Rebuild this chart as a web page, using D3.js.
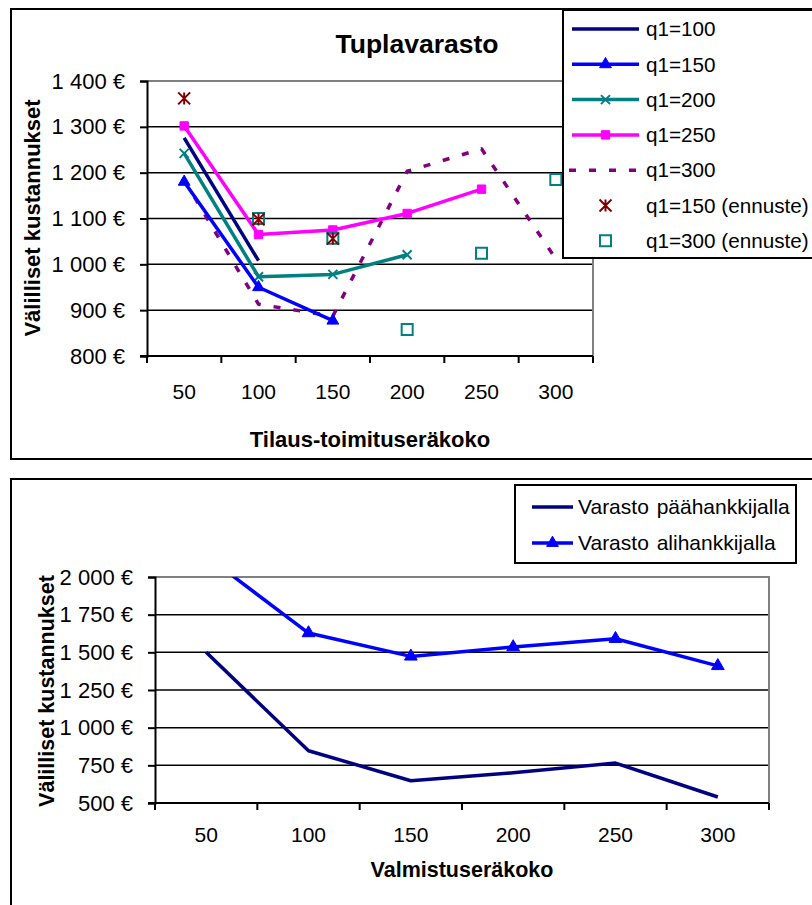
<!DOCTYPE html>
<html>
<head>
<meta charset="utf-8">
<script src="https://cdn.jsdelivr.net/npm/d3@7"></script>
<style>
  html, body { margin: 0; padding: 0; background: #fff; }
  svg { display: block; font-family: "Liberation Sans", Arial, sans-serif; }
</style>
</head>
<body>
<svg id="chart" width="812" height="905"></svg>
<script>
// ---------------- DATA ----------------
const topCategories = ["50", "100", "150", "200", "250", "300"];
const topYTicks = [800, 900, 1000, 1100, 1200, 1300, 1400];
const topTitle = "Tuplavarasto";
const topXLabel = "Tilaus-toimituseräkoko";
const yLabel = "Välilliset kustannukset";

const q100 = [1276, 1008, null, null, null, null];
const q150 = [1180, 950, 877, null, null, null];
const q200 = [1242, 973, 978, 1021, null, null];
const q250 = [1302, 1065, 1075, 1111, 1164, null];
const q300 = [1184, 913, 887, 1203, 1252, 1012];
const q150Forecast = [1362, 1098, 1056, null, null, null];
const q300Forecast = [null, 1100, 1057, 858, 1024, 1185];

const topSeriesNames = ["q1=100", "q1=150", "q1=200", "q1=250", "q1=300", "q1=150 (ennuste)", "q1=300 (ennuste)"];

const bottomCategories = ["50", "100", "150", "200", "250", "300"];
const bottomYTicks = [500, 750, 1000, 1250, 1500, 1750, 2000];
const bottomXLabel = "Valmistuseräkoko";
const mainSupplierStock = [1500, 847, 648, 700, 765, 540];
const subSupplierStock = [2140, 1628, 1473, 1535, 1590, 1410];
const bottomSeriesNames = ["Varasto päähankkijalla", "Varasto alihankkijalla"];

// ---------------- HELPERS ----------------
const svg = d3.select("#chart");
const FONT = 21;
const fmtEuro = v => {
  const s = v >= 1000 ? Math.floor(v / 1000) + " " + String(v % 1000).padStart(3, "0") : String(v);
  return s + " €";
};

function markerPath(type, s) {
  if (type === "triangle") return d3.symbol(d3.symbolTriangle, s)();
  if (type === "square") return d3.symbol(d3.symbolSquare, s)();
  if (type === "x") { const h = s; return `M${-h},${-h}L${h},${h}M${-h},${h}L${h},${-h}`; }
  if (type === "star") { const h = s; return `M${-h},${-h}L${h},${h}M${-h},${h}L${h},${-h}M0,${-h}L0,${h}`; }
  if (type === "openSquare") { const h = s; return `M${-h},${-h}H${h}V${h}H${-h}Z`; }
  return "";
}

function drawMarker(g, type, x, y, color, size) {
  const p = g.append("path").attr("transform", `translate(${x},${y})`).attr("d", markerPath(type, size));
  if (type === "triangle" || type === "square") p.attr("fill", color).attr("stroke", color).attr("stroke-width", 1);
  else p.attr("fill", "none").attr("stroke", color).attr("stroke-width", 2);
}

function drawPlot(cfg) {
  const { x0, x1, y0, y1, cats, domain, ticks, clipId, xPad } = cfg;
  const x = d3.scaleBand().domain(cats).range([x0, x1]).padding(0);
  const y = d3.scaleLinear().domain(domain).range([y1, y0]);
  const cx = c => x(c) + x.bandwidth() / 2;

  const g = svg.append("g");
  g.selectAll("line.grid").data(ticks.slice(1, -1)).enter().append("line")
    .attr("x1", x0).attr("x2", x1).attr("y1", d => y(d)).attr("y2", d => y(d))
    .attr("stroke", "#000").attr("stroke-width", 1.5);
  g.append("path").attr("d", `M${x0},${y(domain[1])}H${x1}V${y1}`)
    .attr("fill", "none").attr("stroke", "#808080").attr("stroke-width", 2);

  const ya = g.append("g").attr("transform", `translate(${x0},0)`)
    .call(d3.axisLeft(y).tickValues(ticks).tickSize(7).tickPadding(15).tickFormat(fmtEuro));
  ya.select(".domain").attr("stroke-width", 2);
  ya.selectAll(".tick line").attr("stroke-width", 2);
  ya.selectAll(".tick text").attr("font-size", 22).attr("font-family", "Liberation Sans, Arial, sans-serif").attr("fill", "#000");

  const xa = g.append("g").attr("transform", `translate(0,${y1})`)
    .call(d3.axisBottom(x).tickSize(0).tickPadding(xPad));
  xa.select(".domain").remove();
  xa.selectAll(".tick text").attr("font-size", FONT).attr("font-family", "Liberation Sans, Arial, sans-serif").attr("fill", "#000");
  const bounds = cats.map(c => x(c)).concat([x1]);
  g.selectAll("line.xt").data(bounds).enter().append("line")
    .attr("x1", d => d).attr("x2", d => d).attr("y1", y1).attr("y2", y1 + 7)
    .attr("stroke", "#000").attr("stroke-width", 2);
  g.append("line").attr("x1", x0 - 7).attr("x2", x1).attr("y1", y1).attr("y2", y1)
    .attr("stroke", "#000").attr("stroke-width", 2);

  svg.append("clipPath").attr("id", clipId).append("rect")
    .attr("x", x0).attr("y", y0).attr("width", x1 - x0).attr("height", y1 - y0);
  const data = svg.append("g").attr("clip-path", `url(#${clipId})`);
  return { x, y, cx, data };
}

function drawSeries(p, cats, values, opt) {
  const pts = cats.map((c, i) => ({ c, v: values[i] }));
  if (opt.line) {
    const line = d3.line().defined(d => d.v != null).x(d => p.cx(d.c)).y(d => p.y(d.v));
    const path = p.data.append("path").datum(pts).attr("d", line)
      .attr("fill", "none").attr("stroke", opt.color).attr("stroke-width", opt.width || 3.5)
      .attr("stroke-linejoin", "round");
    if (opt.dash) path.attr("stroke-dasharray", opt.dash);
  }
  if (opt.marker) {
    pts.filter(d => d.v != null).forEach(d => drawMarker(p.data, opt.marker, p.cx(d.c), p.y(d.v), opt.mcolor || opt.color, opt.msize));
  }
}

// ---------------- TOP CHART ----------------
svg.append("rect").attr("x", 11).attr("y", 9).attr("width", 830).attr("height", 450)
  .attr("fill", "#fff").attr("stroke", "#000").attr("stroke-width", 2);

svg.append("text").attr("x", 417).attr("y", 53).attr("text-anchor", "middle")
  .attr("font-size", 26.5).attr("font-weight", "bold").text(topTitle);

const pTop = drawPlot({ x0: 147, x1: 593, y0: 81, y1: 356, cats: topCategories, domain: [800, 1400], ticks: topYTicks, clipId: "clipTop", xPad: 28 });

const topStyles = [
  { line: true, color: "#000080", width: 3.5 },
  { line: true, color: "#0000FF", marker: "triangle", msize: 60 },
  { line: true, color: "#008080", marker: "x", msize: 4.5 },
  { line: true, color: "#FF00FF", marker: "square", msize: 70 },
  { line: true, color: "#800080", dash: "7,13", width: 3.5 },
  { line: false, color: "#800000", marker: "star", msize: 6 },
  { line: false, color: "#008080", marker: "openSquare", msize: 5.5 }
];
const topData = [q100, q150, q200, q250, q300, q150Forecast, q300Forecast];
[4, 0, 2, 3, 1, 6, 5].forEach(i => drawSeries(pTop, topCategories, topData[i], topStyles[i]));

svg.append("text").attr("x", 370).attr("y", 447).attr("text-anchor", "middle")
  .attr("font-size", 22).attr("font-weight", "bold").text(topXLabel);
svg.append("text").attr("transform", "translate(40,218) rotate(-90)").attr("text-anchor", "middle")
  .attr("font-size", 22).attr("font-weight", "bold").text(yLabel);

const lgTop = svg.append("g");
lgTop.append("rect").attr("x", 563).attr("y", 10).attr("width", 300).attr("height", 248)
  .attr("fill", "#fff").attr("stroke", "#000").attr("stroke-width", 2);
topSeriesNames.forEach((name, i) => {
  const yy = 29 + i * 35.3;
  const st = topStyles[i];
  if (st.line) {
    const l = lgTop.append("line").attr("x1", 572).attr("x2", 639).attr("y1", yy).attr("y2", yy)
      .attr("stroke", st.color).attr("stroke-width", st.width || 3.5);
    if (st.dash) l.attr("x1", 569).attr("stroke-dasharray", st.dash);
  }
  if (st.marker) drawMarker(lgTop, st.marker, 605.5, yy, st.mcolor || st.color, st.msize);
  lgTop.append("text").attr("x", 646).attr("y", yy).attr("dy", "0.35em")
    .attr("font-size", 20.7).text(name);
});

// ---------------- BOTTOM CHART ----------------
svg.append("rect").attr("x", 11).attr("y", 479).attr("width", 830).attr("height", 500)
  .attr("fill", "#fff").attr("stroke", "#000").attr("stroke-width", 2);

const pBot = drawPlot({ x0: 155, x1: 769, y0: 577, y1: 803, cats: bottomCategories, domain: [500, 2000], ticks: bottomYTicks, clipId: "clipBot", xPad: 24 });
drawSeries(pBot, bottomCategories, mainSupplierStock, { line: true, color: "#000080", width: 3.5 });
drawSeries(pBot, bottomCategories, subSupplierStock, { line: true, color: "#0000FF", width: 3.5, marker: "triangle", msize: 70 });

svg.append("text").attr("x", 462).attr("y", 877).attr("text-anchor", "middle")
  .attr("font-size", 21.5).attr("font-weight", "bold").text(bottomXLabel);
svg.append("text").attr("transform", "translate(54,691) rotate(-90)").attr("text-anchor", "middle")
  .attr("font-size", 21.5).attr("font-weight", "bold").text(yLabel);

const lgBot = svg.append("g");
lgBot.append("rect").attr("x", 515).attr("y", 485).attr("width", 281).attr("height", 78)
  .attr("fill", "#fff").attr("stroke", "#000").attr("stroke-width", 2);
const botStyles = [{ color: "#000080" }, { color: "#0000FF", marker: "triangle", msize: 60 }];
bottomSeriesNames.forEach((name, i) => {
  const yy = 507 + i * 36;
  const st = botStyles[i];
  lgBot.append("line").attr("x1", 532).attr("x2", 573).attr("y1", yy).attr("y2", yy)
    .attr("stroke", st.color).attr("stroke-width", 3.5);
  if (st.marker) drawMarker(lgBot, st.marker, 552.5, yy, st.color, st.msize);
  lgBot.append("text").attr("x", 578).attr("y", yy).attr("dy", "0.35em")
    .attr("font-size", FONT).attr("word-spacing", 2).text(name);
});
</script>
</body>
</html>
